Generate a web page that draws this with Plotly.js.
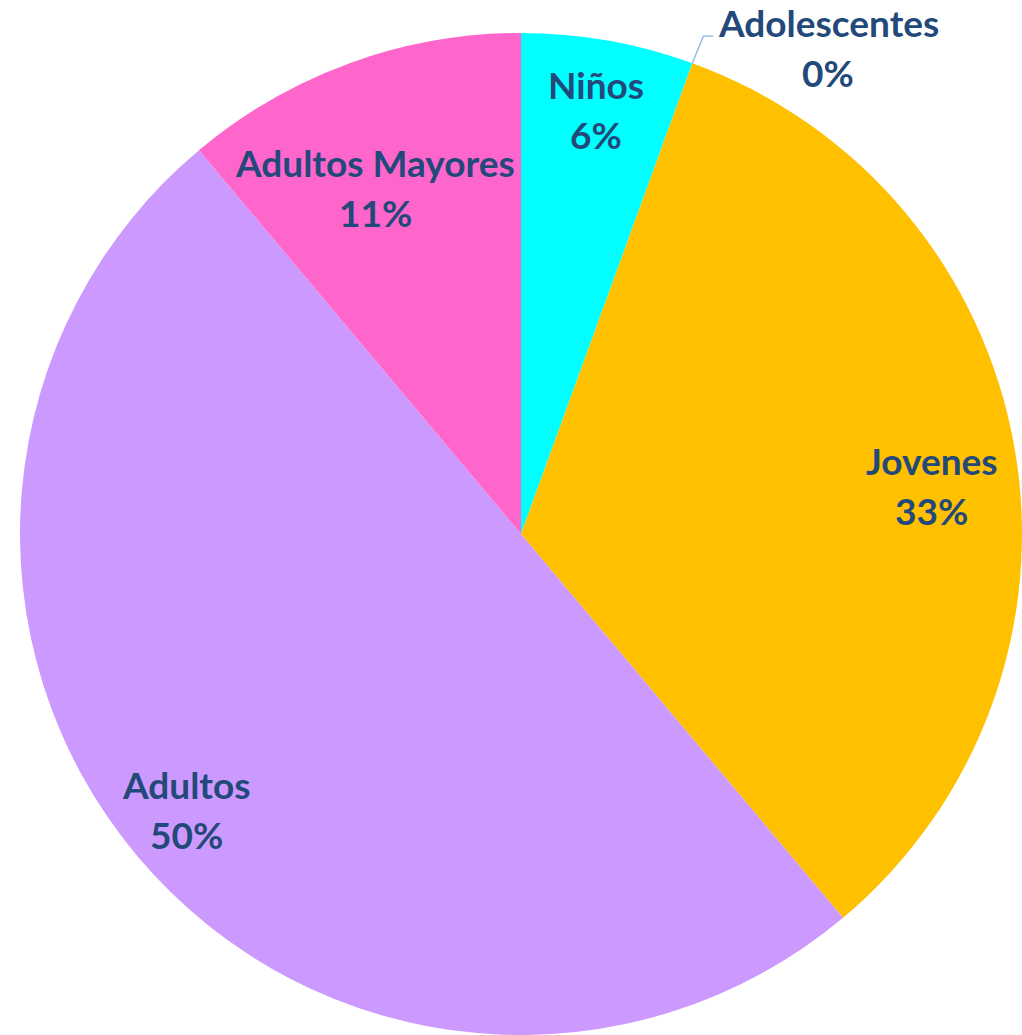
<!DOCTYPE html>
<html>
<head>
<meta charset="utf-8">
<script src="https://cdn.plot.ly/plotly-3.0.1.min.js"></script>
<style>html,body{margin:0;padding:0;background:#fff}#chart{width:1022px;height:1035px}</style>
</head>
<body>
<div id="chart"></div>
<script>
// Data
const categories = ["Niños", "Adolescentes", "Jovenes", "Adultos", "Adultos Mayores"];
const counts = [1, 0, 6, 9, 2];
const colors = ["#00FFFF", "#FFFFFF", "#FFC000", "#CC99FF", "#FF66CC"];

// Layout constants
const W = 1022, H = 1035;
const domX = [20 / W, 1.0];
const domY = [0, 1 - 33 / H];
const cx = (domX[0] + domX[1]) / 2 * W;
const cy = H - (domY[0] + domY[1]) / 2 * H;
const R = Math.min((domX[1] - domX[0]) * W, (domY[1] - domY[0]) * H) / 2;
// label placement: [radius fraction, angle nudge in degrees]
const labelPlace = {"Niños": [0.86, 0], "Jovenes": [0.826, 3.2], "Adultos": [0.866, 0.5], "Adultos Mayores": [0.751, -2.8]};
const txtColor = "#23497A";
const fontFam = "Lato, 'Open Sans', sans-serif";
const fs = 37;
const lineGap = 25;

const total = counts.reduce((a, b) => a + b, 0);
const annotations = [];
const shapes = [];
function addText(x, y, t) {
  annotations.push({xref: "paper", yref: "paper", x: x / W, y: 1 - y / H,
    text: "<b>" + t + "</b>", showarrow: false, xanchor: "center", yanchor: "middle",
    font: {family: fontFam, size: fs, color: txtColor}});
}
let cum = 0;
counts.forEach((v, i) => {
  const frac = v / total;
  const mid = (cum + frac / 2) * 2 * Math.PI;
  cum += frac;
  const pct = Math.round(frac * 100) + "%";
  const name = categories[i];
  if (v === 0) {
    // outside label with leader line
    const ex = cx + R * Math.sin(mid), ey = cy - R * Math.cos(mid);
    const bx = ex + 11, by = ey - 27;
    const tx = bx + 10;
    shapes.push({type: "path", xref: "paper", yref: "paper",
      path: `M ${ex / W} ${1 - ey / H} L ${bx / W} ${1 - by / H} L ${tx / W} ${1 - by / H}`,
      line: {color: "#8EB4E3", width: 1.3}});
    addText(tx + 115, by - 14, name);
    addText(tx + 115, by + 36, pct);
    return;
  }
  const p = labelPlace[name] || [0.85, 0];
  const ang = mid + p[1] * Math.PI / 180;
  const lx = cx + R * p[0] * Math.sin(ang), ly = cy - R * p[0] * Math.cos(ang);
  addText(lx, ly - lineGap, name);
  addText(lx, ly + lineGap, pct);
});

const trace = {
  type: "pie",
  labels: categories,
  values: counts,
  sort: false,
  direction: "clockwise",
  rotation: 0,
  marker: {colors: colors, line: {width: 0}},
  textinfo: "none",
  hoverinfo: "label+percent",
  domain: {x: domX, y: domY},
  showlegend: false
};

const layout = {
  width: W, height: H,
  margin: {l: 0, r: 0, t: 0, b: 0},
  paper_bgcolor: "#ffffff",
  showlegend: false,
  annotations: annotations,
  shapes: shapes
};

Plotly.newPlot("chart", [trace], layout, {displayModeBar: false, staticPlot: true});
</script>
</body>
</html>
